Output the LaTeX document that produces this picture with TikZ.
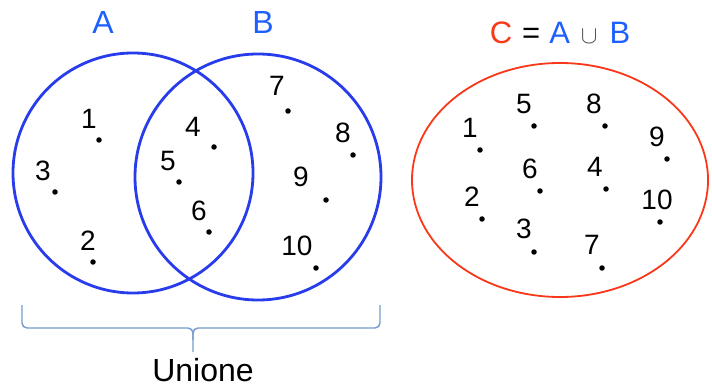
\documentclass[tikz,border=0pt]{standalone}
\usepackage{fontspec}
\setmainfont{Liberation Sans}
\usepackage{xcolor}
\definecolor{setblue}{RGB}{40,60,235}
\definecolor{txtblue}{RGB}{30,95,255}
\definecolor{setred}{RGB}{250,55,25}
\definecolor{bracegray}{RGB}{115,155,205}
\usetikzlibrary{positioning}

\tikzset{
  dot/.style={circle, fill=black, inner sep=0pt, minimum size=5.5pt},
  num/.style={font=\fontsize{28}{30}\selectfont, inner sep=0pt},
  setname/.style={font=\fontsize{32}{34}\selectfont, txtblue, inner sep=0pt}
}

\begin{document}
\begin{tikzpicture}[x=1pt, y=-1pt]
  \useasboundingbox (0,0) rectangle (712,390);

  % --- Venn diagram A, B ---
  \draw[setblue, line width=2.8pt] (133,173) circle (120);
  \draw[setblue, line width=2.8pt] (258,177) circle (123);
  \node[setname] (nA) at (103,22) {A};
  \node[setname] (nB) at (263,22) {B};

  % elements of A only
  \node[dot] (a1) at (99,140) {};  \node[num] (la1) at (89,119) {1};
  \node[dot] (a3) at (55,192) {};  \node[num] (la3) at (43,171) {3};
  \node[dot] (a2) at (93,262) {};  \node[num] (la2) at (88,241) {2};
  % elements of A and B
  \node[dot] (a4) at (214,147) {}; \node[num] (la4) at (193,127) {4};
  \node[dot] (a5) at (179,182) {}; \node[num] (la5) at (168,161) {5};
  \node[dot] (a6) at (209,232) {}; \node[num] (la6) at (199,211) {6};
  % elements of B only
  \node[dot] (a7) at (288,111) {};  \node[num] (la7) at (277,86) {7};
  \node[dot] (a8) at (353,155) {};  \node[num] (la8) at (343,133) {8};
  \node[dot] (a9) at (326,200) {};  \node[num] (la9) at (301,177) {9};
  \node[dot] (a10) at (316,268) {}; \node[num] (la10) at (297,246) {10};

  % brace and label
  \draw[bracegray, line width=1.4pt, rounded corners=5pt]
    (22,305) -- (22,328) -- (193,328) -- (193,352);
  \draw[bracegray, line width=1.4pt, rounded corners=5pt]
    (193,340) -- (193,328) -- (380,328) -- (380,305);
  \node[font=\fontsize{32}{34}\selectfont, inner sep=0pt] (uni) at (203,370) {Unione};

  % --- Union set C ---
  \draw[setred, line width=1.8pt] (560,180) ellipse (148 and 117);
  \node[font=\fontsize{31}{33}\selectfont, inner sep=0pt] (tC) at (560,33)
    {\textcolor{setred}{C}\hspace{10pt}=\hspace{9pt}\textcolor{txtblue}{A}\hspace{11pt}{\fontsize{48}{48}\selectfont\color{black!70}$\cup$}\hspace{12pt}\textcolor{txtblue}{B}};

  \node[dot] (c1) at (480,150) {};  \node[num] (lc1) at (470,128) {1};
  \node[dot] (c5) at (534,126) {};  \node[num] (lc5) at (524,104) {5};
  \node[dot] (c8) at (605,126) {};  \node[num] (lc8) at (594,104) {8};
  \node[dot] (c9) at (667,159) {};  \node[num] (lc9) at (657,137) {9};
  \node[dot] (c6) at (540,191) {};  \node[num] (lc6) at (530,169) {6};
  \node[dot] (c4) at (606,189) {};  \node[num] (lc4) at (595,167) {4};
  \node[dot] (c2) at (482,219) {};  \node[num] (lc2) at (472,197) {2};
  \node[dot] (c10) at (660,222) {}; \node[num] (lc10) at (657,200) {10};
  \node[dot] (c3) at (534,252) {};  \node[num] (lc3) at (524,229) {3};
  \node[dot] (c7) at (602,268) {};  \node[num] (lc7) at (592,245) {7};
\end{tikzpicture}
\end{document}
